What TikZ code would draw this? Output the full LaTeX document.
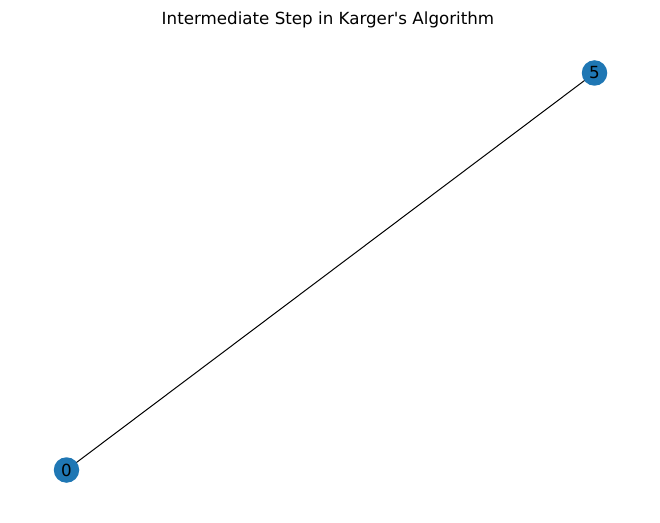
\documentclass[tikz,border=0pt]{standalone}
\usepackage{fontspec}
\setmainfont{DejaVu Sans}[Ligatures=TeXOff]
\definecolor{nodeblue}{HTML}{1F77B4}
\tikzset{
  vertex/.style={circle, fill=nodeblue, draw=none, minimum size=25.5pt, inner sep=0pt, font=\fontsize{16.7}{18}\selectfont, text=black},
  edge/.style={draw=black, line width=1pt}
}
\begin{document}
\begin{tikzpicture}[x=1pt,y=1pt]
\useasboundingbox (0,0) rectangle (660,522);
\node[font=\fontsize{16.7}{18}\selectfont, anchor=base] (title) at (328,497) {Intermediate Step in Karger's Algorithm};
\coordinate (c0) at (66.5,52);
\coordinate (c5) at (594.5,449);
\draw[edge] (c0) -- (c5);
\node[vertex] (n0) at (c0) {0};
\node[vertex] (n5) at (c5) {5};
\end{tikzpicture}
\end{document}
